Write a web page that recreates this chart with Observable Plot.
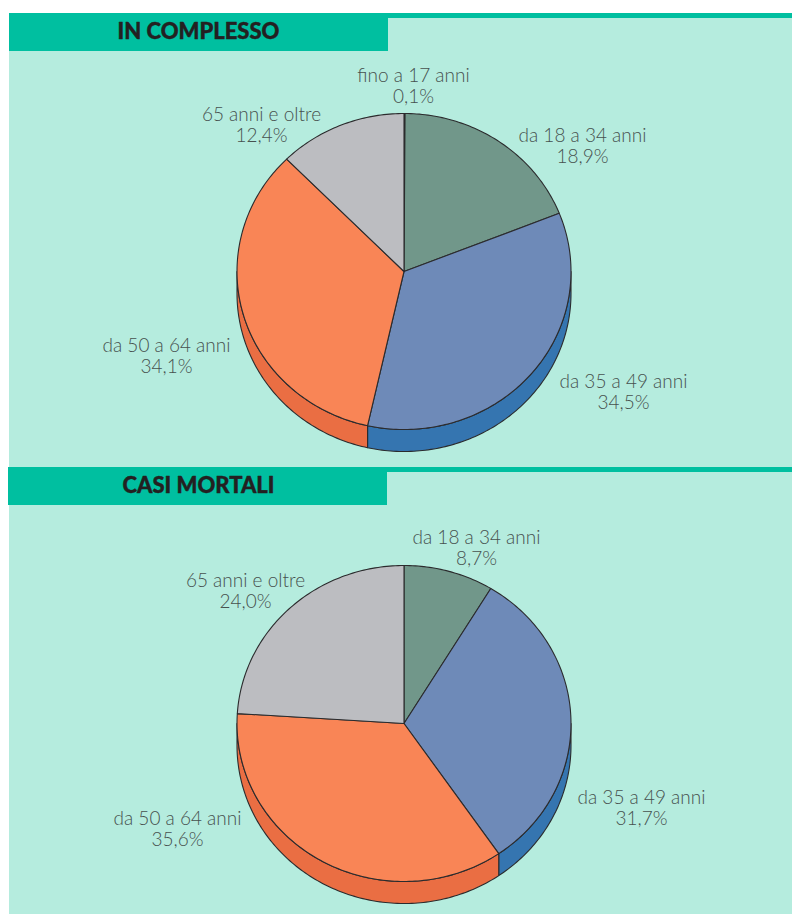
<!DOCTYPE html>
<html>
<head>
<meta charset="utf-8">
<title>Incidenti per classe di età</title>
<script src="https://cdn.jsdelivr.net/npm/d3@7"></script>
<script src="https://cdn.jsdelivr.net/npm/@observablehq/plot@0.6"></script>
<style>
  html, body { margin: 0; padding: 0; background: #fff; }
  svg { display: block; }
</style>
</head>
<body>
<div id="chart"></div>
<script>
// Age classes and their share (%) of the total, clockwise from twelve o'clock.
const classesAll = ["fino a 17 anni", "da 18 a 34 anni", "da 35 a 49 anni", "da 50 a 64 anni", "65 anni e oltre"];
const sharesAll = [0.1, 18.9, 34.5, 34.1, 12.4];
const classesFatal = ["da 18 a 34 anni", "da 35 a 49 anni", "da 50 a 64 anni", "65 anni e oltre"];
const sharesFatal = [8.7, 31.7, 35.6, 24.0];
const titles = ["IN COMPLESSO", "CASI MORTALI"];

// Colours of the top faces and of the rim for each age class.
const faceColors = {
  "fino a 17 anni": "#71978a", "da 18 a 34 anni": "#71978a", "da 35 a 49 anni": "#6e8ab8",
  "da 50 a 64 anni": "#f98556", "65 anni e oltre": "#bcbdc1"
};
const rimColors = {
  "fino a 17 anni": "#557a6d", "da 18 a 34 anni": "#557a6d", "da 35 a 49 anni": "#3575b0",
  "da 50 a 64 anni": "#ea6e43", "65 anni e oltre": "#97989c"
};

// Page layout.
const W = 792, H = 914;
const BG = "#b5ecde", BAND = "#00bfa0", INK = "#232021", LABEL = "#47514f", EDGE = "#2b2b2d";
const RX = 167, RY = 158, DEPTH = 22;
const panels = [
  {top: 13, left: 9, cy: 271, title: titles[0], classes: classesAll, shares: sharesAll,
   labelAt: {"fino a 17 anni": [413, 85], "da 18 a 34 anni": [582, 145], "da 35 a 49 anni": [623, 391],
             "da 50 a 64 anni": [166, 355], "65 anni e oltre": [261, 124]}},
  {top: 467, left: 8, cy: 723, title: titles[1], classes: classesFatal, shares: sharesFatal,
   labelAt: {"da 18 a 34 anni": [476, 547], "da 35 a 49 anni": [641, 807],
             "da 50 a 64 anni": [177, 828], "65 anni e oltre": [245, 590]}}
];
const CX = 403.5;
const TAU = 2 * Math.PI;

// Sample an elliptical arc between two fractions of a full turn.
function arc(a0, a1, cy) {
  const n = Math.max(1, Math.ceil((a1 - a0) * 360));
  return d3.range(n + 1).map(i => {
    const t = (a0 + (a1 - a0) * i / n) * TAU;
    return [CX + RX * Math.sin(t), cy - RY * Math.cos(t)];
  });
}

const faces = [], rims = [], labels = [];
panels.forEach((p, pi) => {
  let cum = 0;
  p.classes.forEach((c, i) => {
    const a0 = cum / 100, a1 = (cum + p.shares[i]) / 100;
    cum += p.shares[i];
    const id = pi + "-" + c;
    const ring = [[CX, p.cy], ...arc(a0, a1, p.cy), [CX, p.cy]];
    ring.forEach(([x, y]) => faces.push({id, c, x, y}));
    // Only the front half of the disc shows its rim.
    const r0 = Math.max(a0, 0.25), r1 = Math.min(a1, 0.75);
    if (r1 > r0) {
      const upper = arc(r0, r1, p.cy);
      const lower = upper.map(([x, y]) => [x, y + DEPTH]).reverse();
      [...upper, ...lower, upper[0]].forEach(([x, y]) => rims.push({id, c, x, y}));
    }
    const [lx, ly] = p.labelAt[c];
    labels.push({x: lx, y: ly, text: c + "\n" + p.shares[i].toFixed(1).replace(".", ",") + "%"});
  });
});

const bands = panels.flatMap(p => [
  {x1: p.left, x2: 388 - (9 - p.left), y1: p.top, y2: p.top + 38},
  {x1: p.left, x2: W, y1: p.top, y2: p.top + 5}
]);

const chart = Plot.plot({
  width: W, height: H,
  margin: 0,
  x: {domain: [0, W], range: [0, W], axis: null},
  y: {domain: [0, H], range: [0, H], axis: null},
  style: {background: "#fff"},
  marks: [
    Plot.rect([{x1: 9, x2: W, y1: 13, y2: H}], {x1: "x1", x2: "x2", y1: "y1", y2: "y2", fill: BG}),
    Plot.rect(bands, {x1: "x1", x2: "x2", y1: "y1", y2: "y2", fill: BAND}),
    Plot.text(panels, {
      x: 198, y: p => p.top + 18.5, text: "title", fill: INK, stroke: INK, strokeWidth: 0.4,
      fontFamily: "Lato", fontWeight: 900, fontSize: 22, textAnchor: "middle"
    }),
    Plot.line(rims, {x: "x", y: "y", z: "id", fill: d => rimColors[d.c], stroke: EDGE, strokeWidth: 1.1, curve: "linear"}),
    Plot.line(faces, {x: "x", y: "y", z: "id", fill: d => faceColors[d.c], stroke: EDGE, strokeWidth: 1.1, curve: "linear"}),
    Plot.text(labels, {
      x: "x", y: "y", text: "text", fill: LABEL, opacity: 0.999,
      fontFamily: "Lato", fontWeight: 300, fontSize: 19, lineHeight: 1.11, textAnchor: "middle"
    })
  ]
});
document.getElementById("chart").append(chart);
</script>
</body>
</html>
